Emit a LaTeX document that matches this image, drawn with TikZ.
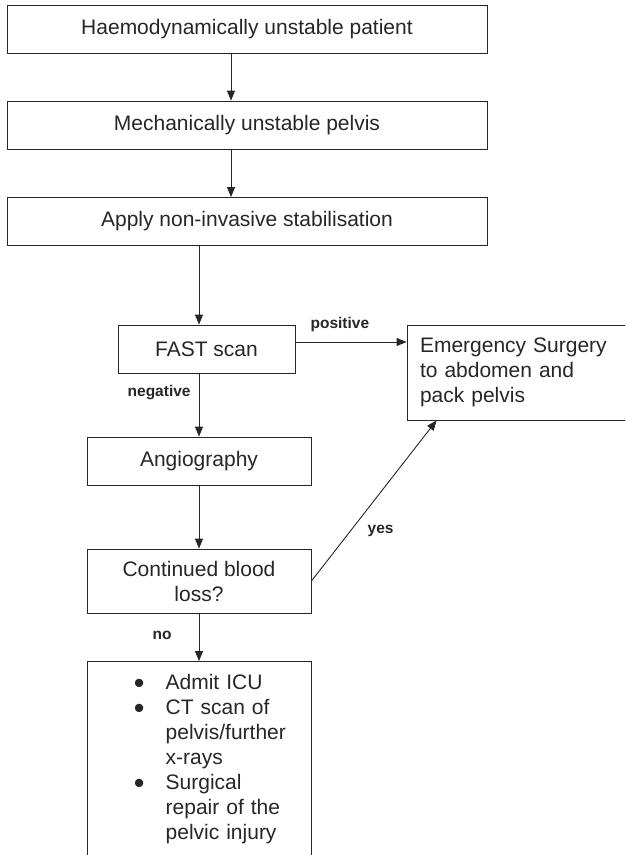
\documentclass[tikz,border=0pt]{standalone}
\usepackage{fontspec}
\setmainfont{Liberation Sans}
\usetikzlibrary{arrows.meta}
\newcommand{\listdot}{\raisebox{-3.4pt}{\scalebox{1.45}{\textbullet}}}
\tikzset{
  box/.style={draw=black!85, line width=0.9pt, inner sep=0pt, text=black!85,
    font=\fontsize{21}{25}\selectfont},
  widebox/.style={box, minimum width=480pt, minimum height=48pt},
  smallbox/.style={box, minimum width=224pt, minimum height=48pt},
  arr/.style={draw=black!85, line width=0.9pt, -{Triangle[length=10pt,width=8pt]}},
  lab/.style={font=\fontsize{15.5}{18}\selectfont\bfseries, text=black!85, inner sep=0pt}
}
\begin{document}
\begin{tikzpicture}[x=1pt,y=-1pt]
  \useasboundingbox (0,0) rectangle (625,855);
  \clip (0,0) rectangle (625,855);
  % main column
  \node[widebox] (haemo) at (247,29) {Haemodynamically unstable patient};
  \node[widebox] (mech) at (247,125) {Mechanically unstable pelvis};
  \node[widebox] (stab) at (247,221.5) {Apply non-invasive stabilisation};
  \node[box, minimum width=177pt, minimum height=48pt] (fast) at (206.5,349) {FAST scan};
  \node[smallbox] (angio) at (199,461) {Angiography};
  \node[smallbox, minimum height=64pt, align=center] (cont) at (199,581) {Continued blood\\loss?};
  % right hand box, runs off the page
  \node[box, minimum width=233pt, minimum height=95pt, text width=207pt, inner xsep=13pt,
    align=left] (surg) at (523.5,372.5) {Emergency Surgery\\to abdomen and\\pack pelvis};
  % list at the bottom
  \node[box, anchor=north, text width=224pt, inner ysep=11pt, align=left] (list) at (199,661)
    {\hspace*{47pt}\begin{tabular}{@{}l@{\hspace{21pt}}l@{}}
      \listdot & Admit ICU\\
      \listdot & CT scan of\\
               & pelvis/further\\
               & x-rays\\
      \listdot & Surgical\\
               & repair of the\\
               & pelvic injury
    \end{tabular}};
  % arrows
  \draw[arr] ([xshift=-16pt]haemo.south) -- ([xshift=-16pt]mech.north);
  \draw[arr] ([xshift=-16pt]mech.south) -- ([xshift=-16pt]stab.north);
  \draw[arr] (stab.south -| angio) -- (fast.north -| angio);
  \draw[arr] ([yshift=7pt]fast.east) -- ([yshift=7pt]fast.east -| surg.west)
    node[lab, pos=.4, above=10pt] {positive};
  \draw[arr] (fast.south -| angio) -- (angio.north) node[lab, pos=.31, left=8pt] {negative};
  \draw[arr] (angio.south) -- (cont.north);
  \draw[arr] (cont.east) -- ([xshift=30pt]surg.south west) node[lab, pos=.31, right=17pt] {yes};
  \draw[arr] (cont.south) -- (list.north) node[lab, pos=.46, left=27pt] {no};
\end{tikzpicture}
\end{document}
